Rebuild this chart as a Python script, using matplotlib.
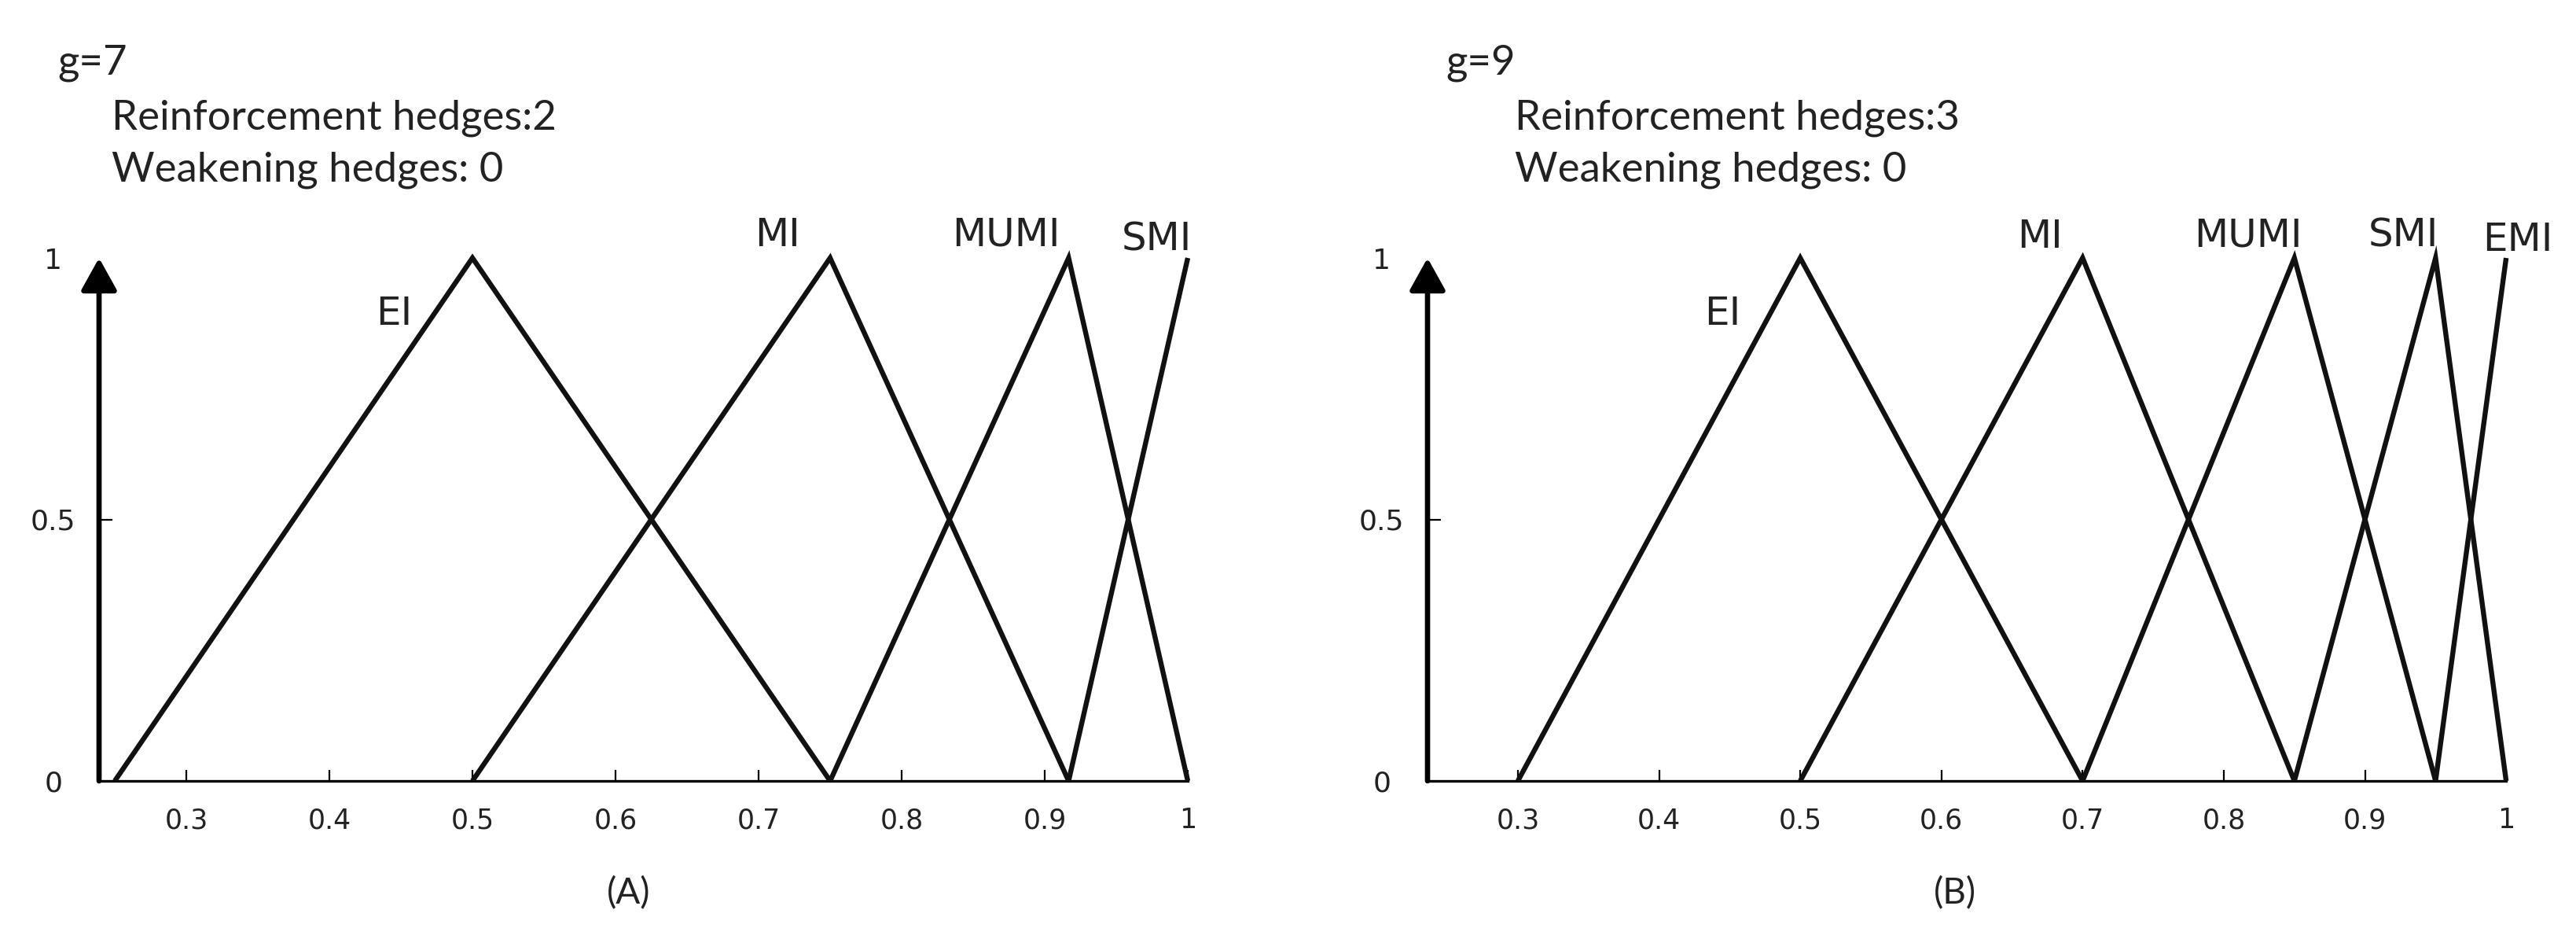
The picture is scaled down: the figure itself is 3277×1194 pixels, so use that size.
import matplotlib
matplotlib.use('Agg')
import matplotlib.pyplot as plt

# ---------------- data ----------------
a_names = ['EI', 'MI', 'MUMI', 'SMI']
a_x = [[0.25, 0.5, 0.75], [0.5, 0.75, 0.9167], [0.75, 0.9167, 1.0], [0.9167, 1.0]]
a_y = [[0, 1, 0], [0, 1, 0], [0, 1, 0], [0, 1]]

b_names = ['EI', 'MI', 'MUMI', 'SMI', 'EMI']
b_x = [[0.3, 0.5, 0.7], [0.5, 0.7, 0.85], [0.7, 0.85, 0.95], [0.85, 0.95, 1.0], [0.95, 1.0]]
b_y = [[0, 1, 0], [0, 1, 0], [0, 1, 0], [0, 1, 0], [0, 1]]

x_ticks = [0.3, 0.4, 0.5, 0.6, 0.7, 0.8, 0.9, 1.0]
x_tick_labels = ['0.3', '0.4', '0.5', '0.6', '0.7', '0.8', '0.9', '1']
y_ticks = [0, 0.5, 1]
y_tick_labels = ['0', '0.5', '1']

a_header = ['g=7', 'Reinforcement hedges:2', 'Weakening hedges: 0']
b_header = ['g=9', 'Reinforcement hedges:3', 'Weakening hedges: 0']
panel_tags = ['(A)', '(B)']

# ---------------- layout ----------------
W, H, DPI = 3277, 1194, 100
fig = plt.figure(figsize=(W / DPI, H / DPI), dpi=DPI)

Y0_PX, Y1_PX = 993, 328          # pixel rows of y=0 and y=1
XMAX = 1.04

panels = [
    dict(names=a_names, xs=a_x, ys=a_y, x0=0.239, left_px=126, ppu=1820,
         label_pos=[(0.445, 0.893), (0.713, 1.044), (0.873, 1.044), (0.978, 1.035)],
         header=a_header, head_px=[(73, 95), (142, 165), (142, 230)],
         tag=panel_tags[0], tag_px=(800, 1136)),
    dict(names=b_names, xs=b_x, ys=b_y, x0=0.236, left_px=1816, ppu=1796,
         label_pos=[(0.445, 0.893), (0.670, 1.040), (0.817, 1.043), (0.927, 1.043), (1.008, 1.035)],
         header=b_header, head_px=[(1839, 95), (1927, 165), (1927, 230)],
         tag=panel_tags[1], tag_px=(2487, 1136)),
]

LINE_LW = 4.6
HEAD_FONT = 'Lato'

for p in panels:
    width_px = (XMAX - p['x0']) * p['ppu']
    ax = fig.add_axes([p['left_px'] / W, 1 - Y0_PX / H, width_px / W, (Y0_PX - Y1_PX) / H])
    ax.set_xlim(p['x0'], XMAX)
    ax.set_ylim(0, 1)
    ax.patch.set_alpha(0)

    for xs, ys in zip(p['xs'], p['ys']):
        ax.plot(xs, ys, color='#111111', lw=LINE_LW, solid_joinstyle='miter',
                solid_capstyle='butt', clip_on=False, zorder=3)

    for name, (lx, ly) in zip(p['names'], p['label_pos']):
        ax.text(lx, ly, name, ha='center', va='center', fontsize=36,
                family='DejaVu Sans', color='#222222')

    # axes styling
    for s in ['top', 'right', 'left']:
        ax.spines[s].set_visible(False)
    ax.spines['bottom'].set_bounds(p['x0'], 1.0)
    ax.spines['bottom'].set_linewidth(2.4)
    ax.spines['bottom'].set_zorder(2)

    # y axis as an arrow
    ax.annotate('', xy=(p['x0'], 1.0), xytext=(p['x0'], 0.0),
                xycoords='data', textcoords='data',
                arrowprops=dict(arrowstyle='-|>,head_length=0.9,head_width=0.5',
                                lw=4.8, color='black', mutation_scale=28,
                                shrinkA=0, shrinkB=0),
                annotation_clip=False, zorder=4)

    ax.set_xticks(x_ticks)
    ax.set_xticklabels(x_tick_labels, fontsize=25, family='DejaVu Sans', color='#222222')
    ax.tick_params(axis='x', direction='in', length=10, width=1.6, pad=24)
    ax.set_yticks(y_ticks)
    ax.set_yticklabels(y_tick_labels, fontsize=26, family='DejaVu Sans', color='#222222',
                       ha='center')
    ax.tick_params(axis='y', direction='in', length=12, width=1.6, pad=42)
    yt = ax.yaxis.get_major_ticks()
    yt[0].tick1line.set_visible(False)
    yt[2].tick1line.set_visible(False)

    for txt, (hx, hy) in zip(p['header'], p['head_px']):
        fig.text(hx / W, 1 - hy / H, txt, ha='left', va='baseline', fontsize=38,
                 family=HEAD_FONT, color='#222222')

    tx, ty = p['tag_px']
    fig.text(tx / W, 1 - ty / H, p['tag'], ha='center', va='center', fontsize=33,
             family=HEAD_FONT, color='#222222')

fig.savefig('out.png', dpi=DPI, facecolor='white')
